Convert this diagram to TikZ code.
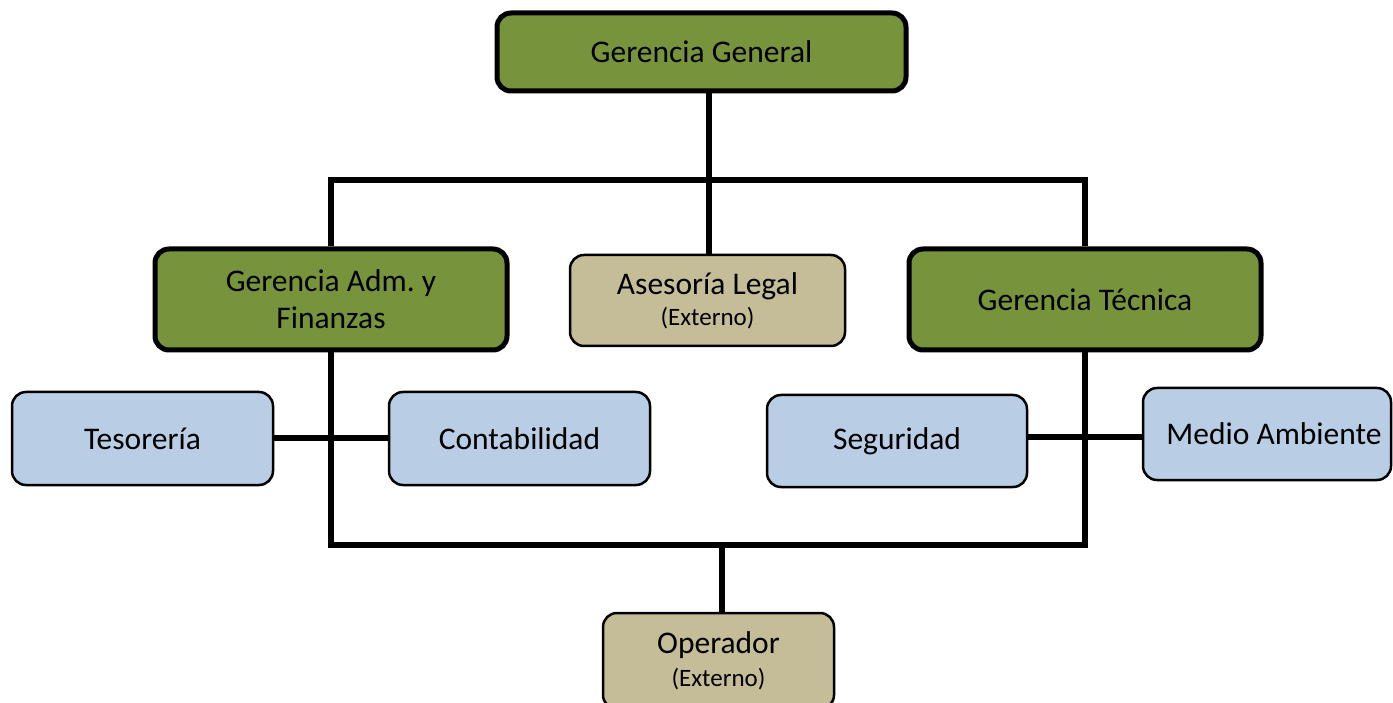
\documentclass[tikz,border=0pt]{standalone}
\usepackage{fontspec}
\setmainfont{Carlito}
\frenchspacing
\definecolor{ggreen}{RGB}{119,147,60}
\definecolor{gtan}{RGB}{196,189,151}
\definecolor{gblue}{RGB}{185,205,229}
\tikzset{
  base/.style={rectangle, rounded corners=14pt, align=center, inner sep=0pt,
    font=\fontsize{31.5}{37}\selectfont, text=black},
  greenbox/.style={base, draw=black, line width=5pt, fill=ggreen},
  tanbox/.style={base, draw=black, line width=2.5pt, fill=gtan},
  bluebox/.style={base, draw=black, line width=2.5pt, fill=gblue},
  conn/.style={draw=black, line width=5.5pt}
}
\begin{document}
\begin{tikzpicture}[x=1pt,y=-1pt]
\useasboundingbox (0,0) rectangle (1393,703);
\coordinate (top) at (709,180);
\coordinate (bot) at (722,545);
\coordinate (ly) at (0,438);
\coordinate (ry) at (0,437);
% boxes
\node[greenbox, minimum width=409pt, minimum height=78pt] (gg) at (701.5,52) {Gerencia General};
\node[greenbox, minimum width=352pt, minimum height=101pt] (gaf) at (331,299.5) {Gerencia Adm.\ y\\Finanzas};
\node[tanbox, minimum width=275pt, minimum height=91pt] (al) at (707.5,300.5) {\raisebox{-3pt}{Asesoría Legal}\\[-3pt]{\fontsize{25}{30}\selectfont(Externo)}};
\node[greenbox, minimum width=352pt, minimum height=101pt] (gt) at (1085,299.5) {Gerencia Técnica};
\node[bluebox, minimum width=261pt, minimum height=93pt] (tes) at (142.5,438.5) {Tesorería};
\node[bluebox, minimum width=261pt, minimum height=93pt] (con) at (519.5,438.5) {Contabilidad};
\node[bluebox, minimum width=260pt, minimum height=92pt] (seg) at (897,441) {Seguridad};
\node[bluebox, minimum width=248pt, minimum height=92pt] (ma) at (1267,434) {\hspace*{14pt}Medio Ambiente};
\node[tanbox, minimum width=231pt, minimum height=96pt] (op) at (718.5,661) {Operador\\[-4pt]{\fontsize{25}{30}\selectfont(Externo)}};
% connectors
\draw[conn] (gg.south -| top) -- (top);
\draw[conn] (gaf.north) |- (top) -| (gt.north);
\draw[conn] (top) -- (al.north -| top);
\draw[conn] (gaf.south) |- (bot) -| (gt.south);
\draw[conn] (bot) -- (op.north -| bot);
\draw[conn] (tes.east |- ly) -- (con.west |- ly);
\draw[conn] (seg.east |- ry) -- (ma.west |- ry);
\end{tikzpicture}
\end{document}
